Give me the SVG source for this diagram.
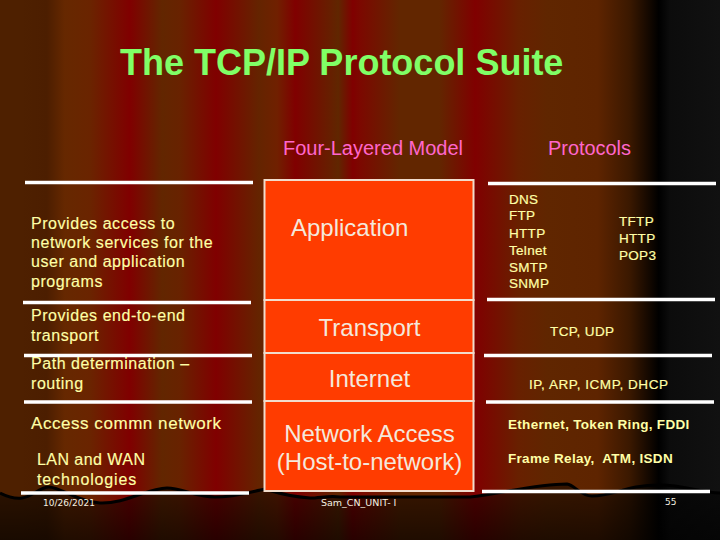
<svg xmlns="http://www.w3.org/2000/svg" width="720" height="540" viewBox="0 0 720 540">
<style>
text{font-family:"Liberation Sans",Arial,sans-serif}
.l{font-size:16px;fill:#ffffa6;stroke:#ffffa6;stroke-width:.15px;letter-spacing:.55px}
.p{font-size:13.500px;fill:#ffffa6;font-weight:bold;letter-spacing:.3px;white-space:pre}
.pn{font-size:13.500px;fill:#ffffa6;stroke:#ffffa6;stroke-width:.2px;letter-spacing:.3px}
.h{font-size:19.500px;fill:#ff66cc}
.c{font-size:24px;fill:#f4e8dc;text-anchor:middle}
.f{font-size:9px;fill:#f4f0e0;font-family:"DejaVu Sans",sans-serif}
.r{stroke:#fff;stroke-width:3.4;fill:none}
.b{stroke:#f2dccb;stroke-width:2;fill:#ff3c00}
</style>
<defs>
<linearGradient id="bg" x1="0" x2="720" y1="0" y2="0" gradientUnits="userSpaceOnUse">
<stop offset="0" stop-color="#4e2000"/>
<stop offset=".03" stop-color="#4e2000"/>
<stop offset=".065" stop-color="#4c1e00"/>
<stop offset=".09" stop-color="#662800"/>
<stop offset=".125" stop-color="#6a2400"/>
<stop offset=".18" stop-color="#800000"/>
<stop offset=".225" stop-color="#622600"/>
<stop offset=".25" stop-color="#682200"/>
<stop offset=".3" stop-color="#800000"/>
<stop offset=".36" stop-color="#642400"/>
<stop offset=".385" stop-color="#702000"/>
<stop offset=".41" stop-color="#800000"/>
<stop offset=".47" stop-color="#602600"/>
<stop offset=".49" stop-color="#800000"/>
<stop offset=".5" stop-color="#7c0800"/>
<stop offset=".555" stop-color="#622600"/>
<stop offset=".61" stop-color="#622600"/>
<stop offset=".66" stop-color="#800000"/>
<stop offset=".72" stop-color="#682000"/>
<stop offset=".76" stop-color="#602600"/>
<stop offset=".83" stop-color="#5e2400"/>
<stop offset=".875" stop-color="#3a1800"/>
<stop offset=".915" stop-color="#000"/>
<stop offset=".93" stop-color="#0c0c0c"/>
<stop offset="1" stop-color="#111"/>
</linearGradient>
<linearGradient id="sh" x1="0" x2="0" y1="490" y2="540" gradientUnits="userSpaceOnUse">
<stop offset="0" stop-color="#000" stop-opacity=".45"/>
<stop offset="1" stop-color="#000" stop-opacity=".68"/>
</linearGradient>
</defs>
<rect id="background" width="720" height="540" fill="url(#bg)"/>
<path id="floor" d="M0 493C8 497 14 499 22 498C32 497 40 487 49 487C60 487 78 502 100 503C125 504 148 488 167 488C182 488 195 497 215 497C235 497 250 492 265 489C275 492 285 496 310 498C320 498 330 495 340 497L470 497C500 494 535 484 567 484C575 485 580 496 592 496C615 496 625 485 660 485C685 485 700 493 720 493V540H0Z" fill="url(#sh)"/>
<path id="wave" d="M0 493C8 497 14 499 22 498C32 497 40 487 49 487C60 487 78 502 100 503C125 504 148 488 167 488C182 488 195 497 215 497C235 497 250 492 265 489C275 492 285 496 310 498C320 498 330 495 340 497L470 497C500 494 535 484 567 484C575 485 580 496 592 496C615 496 625 485 660 485C685 485 700 493 720 493" fill="none" stroke="#000" stroke-width="3"/>
<text id="title" x="120" y="75" font-size="36" font-weight="bold" fill="#80ff66">The TCP/IP Protocol Suite</text>
<text id="head-model" class="h" x="283" y="155" textLength="180" lengthAdjust="spacingAndGlyphs">Four-Layered Model</text>
<text id="head-protocols" class="h" x="548" y="155" textLength="83" lengthAdjust="spacingAndGlyphs">Protocols</text>
<g id="connectors">
<path class="r" d="M25 182.500H253M23 302.500H251M24 355.500H252M24 402H252M21 493H249"/>
<path class="r" d="M488 183.500H716M487 299.500H715M484 355.500H712M486 402H714M482 491.500H710"/>
</g>
<g id="layer-application">
<rect class="b" x="264.500" y="180" width="209" height="120"/>
<text x="291" y="236" font-size="24" fill="#f4e8dc">Application</text>
</g>
<g id="layer-transport">
<rect class="b" x="264.500" y="300" width="209" height="53"/>
<text class="c" x="369.500" y="336">Transport</text>
</g>
<g id="layer-internet">
<rect class="b" x="264.500" y="353" width="209" height="48"/>
<text class="c" x="369.500" y="387">Internet</text>
</g>
<g id="layer-network-access">
<rect class="b" x="264.500" y="401" width="209" height="90"/>
<text class="c" x="369.500" y="442">Network Access</text>
<text class="c" x="369.500" y="470">(Host-to-network)</text>
</g>
<g id="desc-application">
<text class="l" x="31" y="229">Provides access to</text>
<text class="l" x="31" y="248">network services for the</text>
<text class="l" x="31" y="267">user and application</text>
<text class="l" x="31" y="287">programs</text>
</g>
<g id="desc-transport">
<text class="l" x="31" y="321">Provides end-to-end</text>
<text class="l" x="31" y="341">transport</text>
</g>
<g id="desc-internet">
<text class="l" x="31" y="369">Path determination –</text>
<text class="l" x="31" y="389">routing</text>
</g>
<g id="desc-network">
<text class="l" x="31" y="429" style="font-size:17px">Access commn network</text>
<text class="l" x="37" y="465" style="letter-spacing:.45px">LAN and WAN</text>
<text class="l" x="37" y="485" style="letter-spacing:.85px">technologies</text>
</g>
<g id="proto-application">
<text class="pn" x="509" y="204">DNS</text>
<text class="pn" x="509" y="220">FTP</text>
<text class="pn" x="509" y="238">HTTP</text>
<text class="pn" x="509" y="255">Telnet</text>
<text class="pn" x="509" y="272">SMTP</text>
<text class="pn" x="509" y="288">SNMP</text>
<text class="pn" x="619" y="226">TFTP</text>
<text class="pn" x="619" y="243">HTTP</text>
<text class="pn" x="619" y="260">POP3</text>
</g>
<g id="proto-transport"><text class="pn" x="550" y="336" style="letter-spacing:.4px">TCP, UDP</text></g>
<g id="proto-internet"><text class="pn" x="529" y="389" style="letter-spacing:.55px">IP, ARP, ICMP, DHCP</text></g>
<g id="proto-network">
<text class="p" x="508" y="429">Ethernet, Token Ring, FDDI</text>
<text class="p" x="508" y="463">Frame Relay,  ATM, ISDN</text>
</g>
<g id="footer">
<text class="f" x="43" y="506">10/26/2021</text>
<text class="f" x="321" y="506" style="font-size:9.500px">Sam_CN_UNIT- I</text>
<text class="f" x="665" y="505">55</text>
</g>
</svg>
